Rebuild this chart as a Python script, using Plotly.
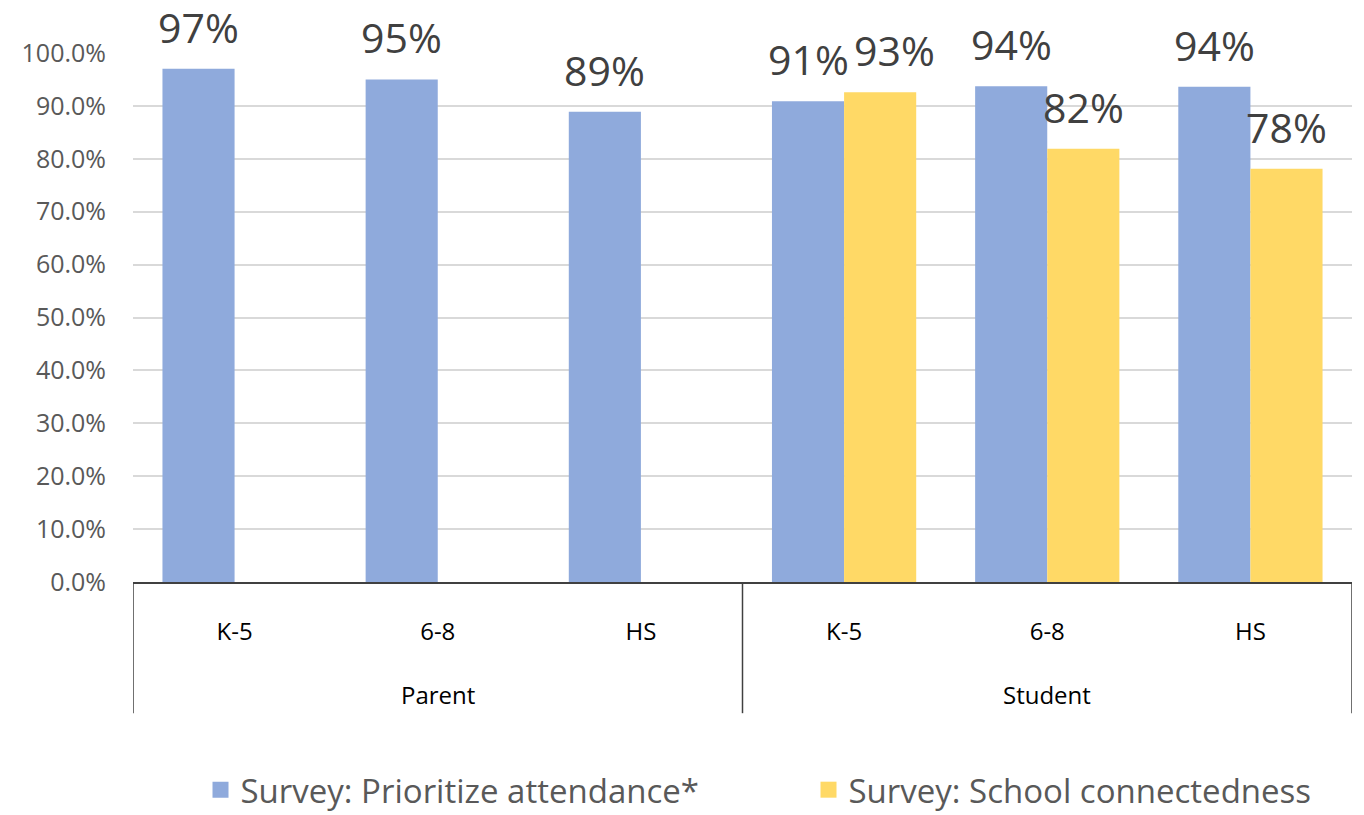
import plotly.graph_objects as go

# Survey results by respondent group and grade band
groups = ["Parent", "Parent", "Parent", "Student", "Student", "Student"]
grades = ["K-5", "6-8", "HS", "K-5", "6-8", "HS"]
prioritize_attendance = [0.970, 0.950, 0.889, 0.909, 0.937, 0.936]
school_connectedness = [None, None, None, 0.926, 0.819, 0.781]
y_ticks = [i / 10 for i in range(11)]

series_names = ["Survey: Prioritize attendance*", "Survey: School connectedness"]
series_colors = ["#8FAADC", "#FFD966"]
series_values = [prioritize_attendance, school_connectedness]

BARGAP = 0.29
# unique category keys, shown as grade band only
categories = [f"{g} {s}" for g, s in zip(groups, grades)]

fig = go.Figure()
for name, vals, color in zip(series_names, series_values, series_colors):
    fig.add_trace(go.Bar(
        x=categories, y=vals, name=name,
        marker=dict(color=color, line=dict(width=0)),
        showlegend=False,
    ))
    # legend entries with larger square swatches
    fig.add_trace(go.Scatter(
        x=[None], y=[None], mode="markers", name=name,
        marker=dict(symbol="square", size=21, color=color),
        showlegend=True,
    ))

# value labels above each bar (centred on the bar within its group)
bar_w = (1 - BARGAP) / len(series_values)
for k, vals in enumerate(series_values):
    offset = (k - (len(series_values) - 1) / 2) * bar_w
    for i, v in enumerate(vals):
        if v is None:
            continue
        nudge = 0
        # push the second label aside when it would collide with its neighbour
        if k > 0 and series_values[k - 1][i] is not None and abs(series_values[k - 1][i] - v) < 0.05:
            nudge = 14
        fig.add_annotation(
            x=i + offset, xref="x", y=v, yref="y",
            text=f"{v:.0%}", showarrow=False, yanchor="bottom",
            xshift=nudge, yshift=12,
            font=dict(family="Open Sans", size=41, color="#404040"),
        )

# group labels below the grade bands
for grp in dict.fromkeys(groups):
    idx = [i for i, g in enumerate(groups) if g == grp]
    fig.add_annotation(
        x=sum(idx) / len(idx), xref="x", y=-0.212, yref="paper",
        text=grp, showarrow=False, yanchor="middle",
        font=dict(family="Open Sans", size=24, color="#000000"),
    )

# vertical dividers between the groups
bounds = [-0.5] + [i + 0.5 for i in range(len(groups) - 1) if groups[i] != groups[i + 1]] + [len(groups) - 0.5]
for b in bounds:
    fig.add_shape(type="line", xref="x", yref="paper", x0=b, x1=b, y0=0, y1=-0.248,
                  line=dict(color="#404040", width=1.5))

fig.update_layout(
    width=1364, height=815,
    margin=dict(l=133, r=12, t=53, b=233),
    paper_bgcolor="white", plot_bgcolor="white",
    barmode="group", bargap=BARGAP, bargroupgap=0,
    font=dict(family="Open Sans", color="#595959"),
    xaxis=dict(
        type="category", tickvals=categories, ticktext=grades,
        range=[-0.5, len(categories) - 0.5],
        showline=True, linecolor="#404040", linewidth=1.5,
        ticks="", showgrid=False, ticklabelstandoff=27,
        tickfont=dict(family="Open Sans", size=24, color="#000000"),
    ),
    yaxis=dict(
        range=[0, 1], tickvals=y_ticks, tickformat=".1%",
        showgrid=True, gridcolor="#D9D9D9", gridwidth=1.5,
        zeroline=False, showline=False, ticks="", ticklabelstandoff=26,
        tickfont=dict(family="Open Sans", size=25, color="#595959"),
    ),
    legend=dict(
        orientation="h", xref="container", yref="container",
        x=0.147, xanchor="left", y=0.031, yanchor="middle",
        font=dict(family="Open Sans", size=33, color="#595959"),
        entrywidth=563, itemwidth=30,
    ),
)

fig.write_html("out.html")
